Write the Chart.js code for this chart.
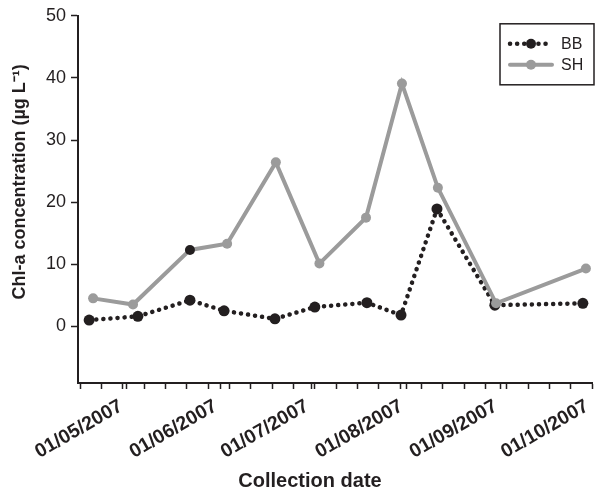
<!DOCTYPE html>
<html>
<head>
<meta charset="utf-8">
<script src="https://cdn.jsdelivr.net/npm/chart.js@4.4.1/dist/chart.umd.min.js"></script>
<style>
	html, body { margin: 0; padding: 0; background: #fff; }
	#wrap { width: 601px; height: 494px; position: relative; }
</style>
</head>
<body>
<div id="wrap"><canvas id="chlChart"></canvas></div>
<script>
/***** Data (x = day of year 2007) *****/
const bbDays = [108.9, 124.9, 142.0, 153.2, 169.9, 183.0, 200.1, 211.3, 223.1, 242.1, 271.0];
const bbValues = [1.0, 1.6, 4.2, 2.5, 1.2, 3.1, 3.8, 1.8, 18.9, 3.4, 3.7];
const shDays = [110.2, 123.3, 142.0, 154.2, 170.2, 184.5, 199.8, 211.6, 223.4, 242.5, 272.0];
const shValues = [4.5, 3.5, 12.3, 13.3, 26.4, 10.1, 17.5, 39.1, 22.3, 3.7, 9.3];

// month starts (day of year) and their labels
const monthDays = [121, 152, 182, 213, 244, 274];
const monthLabels = ['01/05/2007', '01/06/2007', '01/07/2007', '01/08/2007', '01/09/2007', '01/10/2007'];
// weekly minor ticks, ending on 1 Oct
const weekDays = [106, 113, 120, 127, 134, 141, 148, 155, 162, 169, 176, 183, 190, 197, 204, 211, 218, 225, 232, 239, 246, 253, 260, 267, 274];
const yTicks = [0, 10, 20, 30, 40, 50];

const ink = '#231f20';
const grey = '#9b9b9b';
const FONT = "'Liberation Sans', Arial, sans-serif";

const toPoints = (xs, ys) => xs.map((x, i) => ({ x: x, y: ys[i] }));

// Legend drawn by hand: box with line sample + marker
const boxLegend = {
	id: 'boxLegend',
	afterDraw(chart) {
		const ctx = chart.ctx;
		const area = chart.chartArea;
		const bx = area.right - 92, by = area.top + 8, bw = 94, bh = 61;
		ctx.save();
		ctx.strokeStyle = ink;
		ctx.lineWidth = 1.5;
		ctx.strokeRect(bx, by, bw, bh);

		const items = [
			{ label: 'BB', color: ink, dash: [0.1, 7], width: 4.5 },
			{ label: 'SH', color: grey, dash: [], width: 4 }
		];
		items.forEach((it, i) => {
			const y = by + 20 + i * 21;
			ctx.beginPath();
			ctx.setLineDash(it.dash);
			ctx.lineCap = 'round';
			ctx.strokeStyle = it.color;
			ctx.lineWidth = it.width;
			ctx.moveTo(bx + 10, y);
			ctx.lineTo(bx + 52, y);
			ctx.stroke();
			ctx.setLineDash([]);
			ctx.beginPath();
			ctx.fillStyle = it.color;
			ctx.arc(bx + 31, y, 5, 0, Math.PI * 2);
			ctx.fill();
			ctx.fillStyle = ink;
			ctx.font = '16px ' + FONT;
			ctx.textBaseline = 'middle';
			ctx.fillText(it.label, bx + 61, y + 1);
		});
		ctx.restore();
	}
};

new Chart(document.getElementById('chlChart'), {
	type: 'line',
	data: {
		datasets: [{
			label: 'BB',
			data: toPoints(bbDays, bbValues),
			borderColor: ink,
			borderWidth: 4.5,
			borderDash: [0.1, 7],
			borderCapStyle: 'round',
			pointRadius: 5.5,
			pointBackgroundColor: ink,
			pointBorderWidth: 0,
			tension: 0,
			order: 2
		}, {
			label: 'SH',
			data: toPoints(shDays, shValues),
			borderColor: grey,
			borderWidth: 4,
			pointRadius: 5,
			pointBackgroundColor: ctx => ctx.dataIndex === 2 ? ink : grey,
			pointBorderWidth: 0,
			tension: 0,
			order: 1
		}]
	},
	options: {
		responsive: true,
		maintainAspectRatio: false,
		animation: false,
		layout: { padding: { top: 14, right: 9, bottom: 0, left: 0 } },
		plugins: { legend: { display: false }, tooltip: { enabled: false } },
		scales: {
			x: {
				type: 'linear',
				min: 105.24,
				max: 274,
				afterBuildTicks: scale => {
					const all = weekDays.concat(monthDays.slice(0, 5)).sort((a, b) => a - b);
					scale.ticks = all.map(v => ({ value: v }));
				},
				afterFit: scale => {
					scale.height = 111;
					scale.paddingLeft = 0;
					scale.paddingRight = 0;
				},
				grid: { drawOnChartArea: false, tickLength: 6, tickColor: ink, tickWidth: 1.5 },
				border: { color: ink, width: 2 },
				ticks: {
					autoSkip: false,
					minRotation: 30,
					maxRotation: 30,
					padding: 3,
					color: ink,
					font: { family: FONT, size: 19.5, weight: 'bold' },
					callback: v => {
						const i = monthDays.indexOf(v);
						// trailing space nudges the rotated label off the tick like the original
						return i >= 0 ? monthLabels[i] + ' ' : '';
					}
				},
				title: {
					display: true,
					// trailing spaces shift the centred title left
					text: 'Collection date' + ' '.repeat(9),
					color: ink,
					font: { family: FONT, size: 20, weight: 'bold' },
					padding: { top: 0, bottom: 1 }
				}
			},
			y: {
				min: -9.13,
				max: 50,
				afterBuildTicks: scale => { scale.ticks = yTicks.map(v => ({ value: v })); },
				afterFit: scale => { scale.width = 78; },
				grid: { drawOnChartArea: false, tickLength: 7, tickColor: ink, tickWidth: 1.5 },
				border: { color: ink, width: 2 },
				ticks: {
					padding: 5,
					color: ink,
					font: { family: FONT, size: 18 }
				},
				title: {
					display: true,
					// leading spaces lift the centred title a little
					text: ' '.repeat(7) + 'Chl-a concentration (µg L⁻¹)',
					color: ink,
					font: { family: FONT, size: 18, weight: 'bold' },
					padding: { top: 9, bottom: 0 }
				}
			}
		}
	},
	plugins: [boxLegend]
});
</script>
</body>
</html>
